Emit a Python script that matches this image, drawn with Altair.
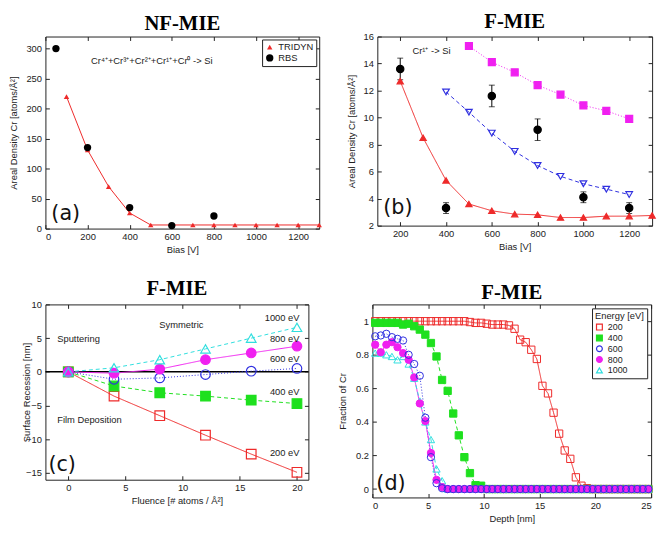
import altair as alt
import pandas as pd

RED = "#ee2a2a"
GREEN = "#1ee01e"
BLUE = "#3030e0"
MAG = "#f020f0"
CYAN = "#30dede"
INK = "#222222"
SANS = "Liberation Sans"
SERIF = "Liberation Serif"

# ---------------- (a) NF-MIE ----------------
a_tridyn_bias = [100, 200, 300, 400, 500, 600, 700, 800, 900, 1000, 1100, 1200, 1300]
a_tridyn_cr = [220, 131, 70, 26, 6, 6, 6, 6, 6, 6, 6, 6, 6]
a_rbs_bias = [50, 200, 400, 600, 800]
a_rbs_cr = [300, 135, 35, 5, 21]

# ---------------- (b) F-MIE ----------------
b_tridyn_bias = [200, 300, 400, 500, 600, 700, 800, 900, 1000, 1100, 1200, 1300]
b_tridyn_cr = [12.7, 8.5, 5.35, 3.6, 3.1, 2.85, 2.8, 2.6, 2.6, 2.7, 2.7, 2.75]
b_crsi2_bias = [400, 500, 600, 700, 800, 900, 1000, 1100, 1200]
b_crsi2_cr = [11.9, 10.4, 8.85, 7.5, 6.45, 5.65, 5.1, 4.7, 4.3]
b_cr2o3_bias = [500, 600, 700, 800, 900, 1000, 1100, 1200]
b_cr2o3_cr = [15.3, 14.1, 13.35, 12.4, 11.7, 10.9, 10.5, 9.9]
b_rbs_bias = [200, 400, 600, 800, 1000, 1200]
b_rbs_cr = [13.6, 3.3, 11.6, 9.1, 4.1, 3.3]
b_rbs_err = [0.8, 0.4, 0.8, 0.8, 0.4, 0.4]

# ---------------- (c) F-MIE ----------------
c_fluence = [0, 4, 8, 12, 16, 20]
c_200 = [0, -3.6, -6.5, -9.4, -12.2, -14.9]
c_400 = [0, -2.1, -3.1, -3.6, -4.2, -4.7]
c_600 = [0, -1.1, -0.9, -0.4, 0.1, 0.5]
c_800 = [0, -0.2, 0.4, 1.8, 2.8, 3.8]
c_1000 = [0, 0.6, 1.8, 3.4, 5.0, 6.6]

# ---------------- (d) F-MIE ----------------
d_depth = [0.25, 0.75, 1.25, 1.75, 2.25, 2.75, 3.25, 3.75, 4.25, 4.75,
           5.25, 5.75, 6.25, 6.75, 7.25, 7.75, 8.25, 8.75, 9.25, 9.75,
           10.25, 10.75, 11.25, 11.75, 12.25, 12.75, 13.25, 13.75, 14.25, 14.75,
           15.25, 15.75, 16.25, 16.75, 17.25, 17.75, 18.25, 18.75, 19.25, 19.75,
           20.25, 20.75, 21.25, 21.75, 22.25, 22.75, 23.25, 23.75, 24.25, 24.75]
d_200 = [1.0, 1.0, 1.0, 1.0, 1.0, 1.0, 1.0, 1.0, 1.0, 1.0,
         1.0, 1.0, 1.0, 1.0, 1.0, 1.0, 1.0, 0.995, 0.99, 0.99,
         0.985, 0.98, 0.98, 0.98, 0.975, 0.955, 0.89, 0.875, 0.83, 0.775,
         0.615, 0.57, 0.455, 0.33, 0.23, 0.18, 0.07, 0.02, 0.005, 0.0,
         0.0, 0.0, 0.0, 0.0, 0.0, 0.0, 0.0, 0.0, 0.0, 0.0]
d_400 = [0.99, 0.99, 0.99, 0.99, 0.99, 0.98, 0.985, 0.97, 0.95, 0.92,
         0.87, 0.79, 0.65, 0.585, 0.45, 0.32, 0.19, 0.095, 0.023, 0.02,
         0.0, 0.0, 0.0, 0.0, 0.0, 0.0, 0.0, 0.0, 0.0, 0.0,
         0.0, 0.0, 0.0, 0.0, 0.0, 0.0, 0.0, 0.0, 0.0, 0.0,
         0.0, 0.0, 0.0, 0.0, 0.0, 0.0, 0.0, 0.0, 0.0, 0.0]
d_600 = [0.91, 0.915, 0.925, 0.905, 0.895, 0.885, 0.8, 0.745, 0.675, 0.425,
         0.19, 0.035, 0.005, 0.0, 0.0, 0.0, 0.0, 0.0, 0.0, 0.0,
         0.0, 0.0, 0.0, 0.0, 0.0, 0.0, 0.0, 0.0, 0.0, 0.0,
         0.0, 0.0, 0.0, 0.0, 0.0, 0.0, 0.0, 0.0, 0.0, 0.0,
         0.0, 0.0, 0.0, 0.0, 0.0, 0.0, 0.0, 0.0, 0.0, 0.0]
d_800 = [0.86, 0.815, 0.86, 0.875, 0.845, 0.81, 0.77, 0.665, 0.51, 0.405,
         0.215, 0.055, 0.012, 0.0, 0.0, 0.0, 0.0, 0.0, 0.0, 0.0,
         0.0, 0.0, 0.0, 0.0, 0.0, 0.0, 0.0, 0.0, 0.0, 0.0,
         0.0, 0.0, 0.0, 0.0, 0.0, 0.0, 0.0, 0.0, 0.0, 0.0,
         0.0, 0.0, 0.0, 0.0, 0.0, 0.0, 0.0, 0.0, 0.0, 0.0]
d_1000 = [0.81, 0.81, 0.8, 0.79, 0.77, 0.79, 0.745, 0.66, 0.525, 0.4,
          0.295, 0.12, 0.05, 0.0, 0.0, 0.0, 0.0, 0.0, 0.0, 0.0,
          0.0, 0.0, 0.0, 0.0, 0.0, 0.0, 0.0, 0.0, 0.0, 0.0,
          0.0, 0.0, 0.0, 0.0, 0.0, 0.0, 0.0, 0.0, 0.0, 0.0,
          0.0, 0.0, 0.0, 0.0, 0.0, 0.0, 0.0, 0.0, 0.0, 0.0]

energies = ["200", "400", "600", "800", "1000"]
e_colors = [RED, GREEN, BLUE, MAG, CYAN]
e_fills = ["transparent", GREEN, "transparent", MAG, "transparent"]
e_shapes = ["square", "square", "circle", "circle", "triangle-up"]
e_dash = [[1, 0], [4, 3], [1, 2], [1, 0], [4, 3]]


def frame(xdom, ydom, xvals, yvals, xtitle, ytitle, yext, ytp, xfmt="d", yfmt="d", xtp=4):
    df = pd.DataFrame({"fx": xdom, "fy": ydom})
    xs = alt.Scale(domain=xdom, nice=False, zero=False)
    ys = alt.Scale(domain=ydom, nice=False, zero=False)
    main = alt.Chart(df).mark_point(opacity=0, size=1).encode(
        x=alt.X("fx:Q", scale=xs, axis=alt.Axis(orient="bottom", values=xvals, title=xtitle,
                                                 format=xfmt, offset=-4, tickSize=4,
                                                 labelPadding=3, titlePadding=xtp)),
        y=alt.Y("fy:Q", scale=ys, axis=alt.Axis(orient="left", values=yvals, title=ytitle,
                                                 format=yfmt, offset=-4, tickSize=4,
                                                 labelPadding=4, titlePadding=ytp,
                                                 minExtent=yext, maxExtent=yext)),
    )
    mirror = alt.Chart(df).mark_point(opacity=0, size=1).encode(
        x=alt.X("fx:Q", scale=xs, axis=alt.Axis(orient="top", values=xvals, labels=False,
                                                 title=None, offset=-4, tickSize=4,
                                                 minExtent=0, maxExtent=0)),
        y=alt.Y("fy:Q", scale=ys, axis=alt.Axis(orient="right", values=yvals, labels=False,
                                                 title=None, offset=-4, tickSize=4,
                                                 minExtent=0, maxExtent=0)),
    )
    return [main, mirror], xs, ys


def label(text, px, py, size=9.5, align="left", font=SANS, color=INK, weight="normal",
          baseline="middle"):
    return alt.Chart(pd.DataFrame({"t": [text]})).mark_text(
        align=align, baseline=baseline, font=font, fontSize=size, color=color, fontWeight=weight
    ).encode(text="t:N", x=alt.value(px), y=alt.value(py))


def heading(text, px, py):
    return label(text, px, py, size=21, align="center", font=SERIF, color="black",
                 weight="bold", baseline="alphabetic")


# ================= panel (a) =================
WA, HA = 278, 195
fa, XA, YA = frame([0, 1300], [0, 320], [0, 200, 400, 600, 800, 1000, 1200],
                   [0, 50, 100, 150, 200, 250, 300], "Bias [V]",
                   "Areal Density Cr [atoms/Å²]", yext=24, ytp=7)
dfa_t = pd.DataFrame({"bias": a_tridyn_bias, "cr": a_tridyn_cr, "series": "TRIDYN"})
dfa_r = pd.DataFrame({"bias": a_rbs_bias, "cr": a_rbs_cr, "series": "RBS"})
dfa = pd.concat([dfa_t, dfa_r], ignore_index=True)
leg_a = alt.Legend(title=None, orient="top-right", symbolSize=35, offset=3)
a_line = alt.Chart(dfa_t).mark_line(color=RED, strokeWidth=1).encode(
    x=alt.X("bias:Q", scale=XA, axis=None), y=alt.Y("cr:Q", scale=YA, axis=None))
a_pts = alt.Chart(dfa).mark_point(filled=True, opacity=1).encode(
    x=alt.X("bias:Q", scale=XA, axis=None),
    y=alt.Y("cr:Q", scale=YA, axis=None),
    color=alt.Color("series:N", scale=alt.Scale(domain=["TRIDYN", "RBS"], range=[RED, "black"]), legend=leg_a),
    shape=alt.Shape("series:N", scale=alt.Scale(domain=["TRIDYN", "RBS"], range=["triangle-up", "circle"]), legend=leg_a),
    size=alt.Size("series:N", scale=alt.Scale(domain=["TRIDYN", "RBS"], range=[30, 55]), legend=None),
)
panel_a = alt.layer(
    *fa, a_line, a_pts,
    heading("NF-MIE", WA / 2, -7),
    label("Cr⁴⁺+Cr³⁺+Cr²⁺+Cr¹⁺+Cr⁰ -> Si", 108, 25, align="center"),
    label("(a)", 6, 180, size=21, font="DejaVu Sans", color="#111"),
).resolve_axis(x="independent", y="independent").properties(width=WA, height=HA)

# ================= panel (b) =================
WB, HB = 279, 192
fb, XB, YB = frame([100, 1300], [2, 16], [200, 400, 600, 800, 1000, 1200],
                   [2, 4, 6, 8, 10, 12, 14, 16], "Bias [V]",
                   "Areal Density Cr [atoms/Å²]", yext=20, ytp=5)
b_names = ["TRIDYN", "TRIDYN – CrSi₂", "TRIDYN – Cr₂O₃", "RBS"]
dfb_t = pd.DataFrame({"bias": b_tridyn_bias, "cr": b_tridyn_cr, "series": b_names[0]})
dfb_s = pd.DataFrame({"bias": b_crsi2_bias, "cr": b_crsi2_cr, "series": b_names[1]})
dfb_o = pd.DataFrame({"bias": b_cr2o3_bias, "cr": b_cr2o3_cr, "series": b_names[2]})
dfb_r = pd.DataFrame({"bias": b_rbs_bias, "cr": b_rbs_cr, "series": b_names[3],
                      "lo": [v - e for v, e in zip(b_rbs_cr, b_rbs_err)],
                      "hi": [v + e for v, e in zip(b_rbs_cr, b_rbs_err)]})
dfb = pd.concat([dfb_t, dfb_s, dfb_o, dfb_r[["bias", "cr", "series"]]], ignore_index=True)
leg_b = alt.Legend(title=None, orient="top-right", symbolSize=35, offset=4, labelFontSize=9)


def bx():
    return alt.X("bias:Q", scale=XB, axis=None)


b_lines = [
    alt.Chart(d).mark_line(color=c, strokeWidth=1, strokeDash=sd).encode(x=bx(), y=alt.Y("cr:Q", scale=YB, axis=None))
    for d, c, sd in [(dfb_t, RED, [1, 0]), (dfb_s, BLUE, [4, 3]), (dfb_o, MAG, [1, 2])]
]
b_err = alt.Chart(dfb_r).mark_rule(color="black", strokeWidth=1).encode(
    x=bx(), y=alt.Y("lo:Q", scale=YB, axis=None), y2="hi:Q")
b_cap_lo = alt.Chart(dfb_r).mark_tick(color="black", orient="horizontal", size=6, thickness=1).encode(
    x=bx(), y=alt.Y("lo:Q", scale=YB, axis=None))
b_cap_hi = alt.Chart(dfb_r).mark_tick(color="black", orient="horizontal", size=6, thickness=1).encode(
    x=bx(), y=alt.Y("hi:Q", scale=YB, axis=None))
b_pts = alt.Chart(dfb).mark_point(opacity=1, strokeWidth=1.2).encode(
    x=bx(), y=alt.Y("cr:Q", scale=YB, axis=None),
    stroke=alt.Stroke("series:N", scale=alt.Scale(domain=b_names, range=[RED, BLUE, MAG, "black"]), legend=leg_b),
    fill=alt.Fill("series:N", scale=alt.Scale(domain=b_names, range=[RED, "transparent", MAG, "black"]), legend=leg_b),
    shape=alt.Shape("series:N", scale=alt.Scale(domain=b_names, range=["triangle-up", "triangle-down", "square", "circle"]), legend=leg_b),
    size=alt.Size("series:N", scale=alt.Scale(domain=b_names, range=[40, 55, 85, 110]), legend=None),
)
panel_b = alt.layer(
    *fb, *b_lines, b_err, b_cap_lo, b_cap_hi, b_pts,
    heading("F-MIE", WB / 2, -9),
    label("Cr¹⁺ -> Si", 55, 15, align="center"),
    label("(b)", 6, 174, size=21, font="DejaVu Sans", color="#111"),
).resolve_axis(x="independent", y="independent").properties(width=WB, height=HB)

# ================= panel (c) =================
WC, HC = 267, 178
fc, XC, YC = frame([-2, 21], [-16, 10], [0, 5, 10, 15, 20], [-15, -10, -5, 0, 5, 10],
                   "Fluence [# atoms / Å²]", "Surface Recession [nm]", yext=16, ytp=2)
c_vals = [c_200, c_400, c_600, c_800, c_1000]
dfc = pd.concat(
    [pd.DataFrame({"fluence": c_fluence, "rec": v, "energy": e}) for e, v in zip(energies, c_vals)],
    ignore_index=True)


def cx():
    return alt.X("fluence:Q", scale=XC, axis=None)


c_lines = [
    alt.Chart(dfc[dfc.energy == e]).mark_line(color=col, strokeWidth=1, strokeDash=sd).encode(
        x=cx(), y=alt.Y("rec:Q", scale=YC, axis=None))
    for e, col, sd in zip(energies, e_colors, e_dash)
]
c_zero = alt.Chart(pd.DataFrame({"z": [0]})).mark_rule(color="black", strokeWidth=1.5).encode(
    y=alt.Y("z:Q", scale=YC, axis=None))
c_pts = alt.Chart(dfc).mark_point(opacity=1, strokeWidth=1.2).encode(
    x=cx(), y=alt.Y("rec:Q", scale=YC, axis=None),
    stroke=alt.Stroke("energy:N", scale=alt.Scale(domain=energies, range=e_colors), legend=None),
    fill=alt.Fill("energy:N", scale=alt.Scale(domain=energies, range=e_fills), legend=None),
    shape=alt.Shape("energy:N", scale=alt.Scale(domain=energies, range=e_shapes), legend=None),
    size=alt.value(95),
)
panel_c = alt.layer(
    *fc, c_zero, *c_lines, c_pts,
    heading("F-MIE", WC / 2, -10),
    label("Symmetric", 138, 21, align="center"),
    label("Sputtering", 12, 35),
    label("Film Deposition", 12, 117),
    label("1000 eV", 258, 14, align="right"),
    label("800 eV", 258, 35, align="right"),
    label("600 eV", 258, 55, align="right"),
    label("400 eV", 258, 89, align="right"),
    label("200 eV", 258, 151, align="right"),
    label("(c)", 3, 163, size=21, font="DejaVu Sans", color="#111"),
).resolve_axis(x="independent", y="independent").properties(width=WC, height=HC)

# ================= panel (d) =================
WD, HD = 283, 196
fd, XD, YD = frame([0, 25], [-0.05, 1.1], [0, 5, 10, 15, 20, 25],
                   [0, 0.2, 0.4, 0.6, 0.8, 1], "Depth [nm]", "Fraction of Cr",
                   yext=24, ytp=5, yfmt="~g")
d_vals = {"200": d_200, "400": d_400, "600": d_600, "800": d_800, "1000": d_1000}
draw_order = ["200", "400", "1000", "800", "600"]
dfd = pd.concat(
    [pd.DataFrame({"depth": d_depth, "frac": d_vals[e], "energy": e}) for e in draw_order],
    ignore_index=True)


def dx():
    return alt.X("depth:Q", scale=XD, axis=None)


d_lines = [
    alt.Chart(dfd[dfd.energy == e]).mark_line(color=col, strokeWidth=1, strokeDash=sd).encode(
        x=dx(), y=alt.Y("frac:Q", scale=YD, axis=None))
    for e, col, sd in zip(energies, e_colors, e_dash)
]
leg_d = alt.Legend(title="Energy [eV]", orient="top-right", symbolSize=35, offset=4,
                   labelFontSize=9, titlePadding=2)
d_pts = alt.Chart(dfd).mark_point(opacity=1, strokeWidth=1).encode(
    x=dx(), y=alt.Y("frac:Q", scale=YD, axis=None),
    stroke=alt.Stroke("energy:N", scale=alt.Scale(domain=energies, range=e_colors), legend=leg_d),
    fill=alt.Fill("energy:N", scale=alt.Scale(domain=energies, range=e_fills), legend=leg_d),
    shape=alt.Shape("energy:N", scale=alt.Scale(domain=energies, range=e_shapes), legend=leg_d),
    size=alt.value(55),
)
panel_d = alt.layer(
    *fd, *d_lines, d_pts,
    heading("F-MIE", WD / 2, -6),
    label("(d)", 4, 182, size=21, font="DejaVu Sans", color="#111"),
).resolve_axis(x="independent", y="independent").properties(width=WD, height=HD)

res = dict(color="independent", shape="independent", size="independent",
           fill="independent", stroke="independent")
row1 = alt.hconcat(panel_a, panel_b, spacing=23).resolve_scale(**res)
row2 = alt.hconcat(panel_c, panel_d, spacing=27).resolve_scale(**res)
chart = alt.vconcat(row1, row2, spacing=22).resolve_scale(**res).properties(
    padding={"left": 0, "top": -2, "right": 0, "bottom": -3}
).configure_view(
    stroke=INK, strokeWidth=1
).configure_axis(
    domain=False, grid=False, tickColor=INK, labelFont=SANS, labelFontSize=9.5,
    titleFont=SANS, titleFontSize=9.5, titleFontWeight="normal", labelColor=INK, titleColor=INK
).configure_legend(
    strokeColor=INK, fillColor="white", padding=3, labelFont=SANS, labelFontSize=9.5,
    titleFont=SANS, titleFontSize=9.5, titleFontWeight="normal", rowPadding=0,
    symbolStrokeWidth=1.2, cornerRadius=0, labelColor=INK, titleColor=INK
)

chart.save("out.html", embed_options={"renderer": "svg", "actions": False})
